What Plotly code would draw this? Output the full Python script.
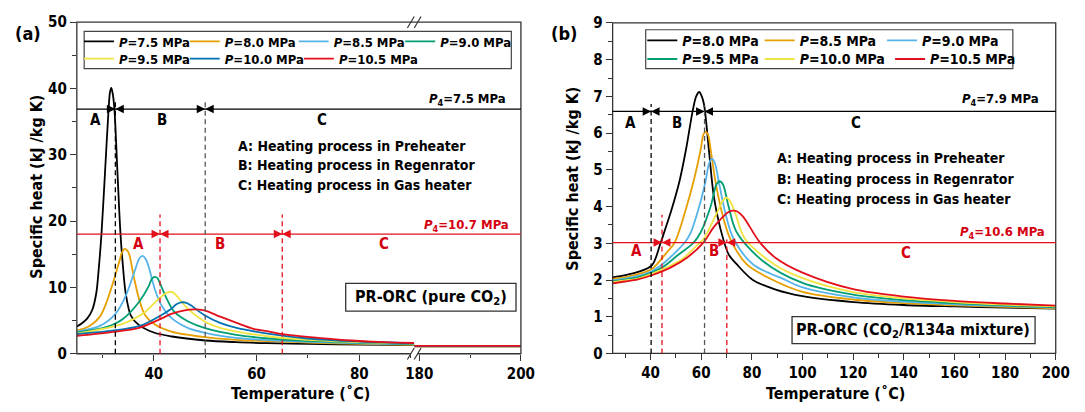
import plotly.graph_objects as go

W, H = 1085, 412
def px(x):
    return x / W
def py(y):
    return 1 - y / H

FONT = "DejaVu Sans Condensed, DejaVu Sans, sans-serif"
A_COLORS = ["#000000", "#E69F00", "#56B4E9", "#009E73", "#F0E442", "#0072B2", "#E3101B"]
B_COLORS = ["#000000", "#E69F00", "#56B4E9", "#009E73", "#F0E442", "#E3101B"]
RED = "#E3101B"
RED_TXT = "#D40010"

# ---------------- Panel (a): pure CO2 ----------------
a_labels = ["7.5", "8.0", "8.5", "9.0", "9.5", "10.0", "10.5"]
a_T_75 = [25, 26, 27, 28, 28.8, 29.3, 29.8, 30.5, 31.2, 31.45, 31.7, 31.95, 32.3, 32.9, 33.5, 34.0, 34.5, 35.5, 37, 40, 43.5, 50, 56, 62, 70, 80, 90.7]
a_cp_75 = [4.1, 4.6, 5.3, 6.6, 9.2, 13.1, 18.1, 27.5, 37.1, 39.4, 40.1, 39.4, 37.1, 27.5, 18.1, 13.0, 9.2, 5.8, 4.4, 3.2, 2.6, 2.0, 1.75, 1.6, 1.48, 1.38, 1.3]
a_T_80 = [25, 27.5, 29.5, 30.7, 32, 33.3, 33.8, 34.3, 34.8, 35.2, 36.1, 37.1, 38.3, 40.2, 43.4, 50, 56, 62.5, 70, 80, 90.7]
a_cp_80 = [3.5, 4.2, 5.6, 7.6, 10.6, 14.0, 15.3, 15.8, 15.6, 15.0, 11.6, 8.3, 5.8, 4.4, 3.35, 2.5, 2.1, 1.9, 1.7, 1.5, 1.36]
a_T_85 = [25, 29.5, 32.6, 34.5, 36.1, 37.2, 37.8, 38.4, 39.0, 40.2, 41.5, 43.4, 46.6, 50, 56, 62.5, 70, 80, 90.7]
a_cp_85 = [3.35, 4.2, 6.1, 8.7, 12.1, 14.4, 14.75, 14.3, 13.1, 9.7, 7.3, 5.4, 3.9, 3.15, 2.4, 2.05, 1.8, 1.58, 1.42]
a_T_90 = [25, 30.7, 33.9, 37.1, 39.0, 39.6, 40.2, 40.7, 41.2, 42.5, 44.0, 46.6, 50, 56, 62.5, 70, 80, 90.7]
a_cp_90 = [3.2, 4.0, 5.2, 7.8, 10.2, 11.3, 11.6, 11.4, 10.6, 8.3, 6.3, 4.9, 3.85, 2.85, 2.3, 1.95, 1.68, 1.47]
a_T_95 = [25, 33.9, 38.3, 40.9, 42.3, 43.1, 43.9, 44.7, 46.6, 49.8, 52.9, 56.1, 62.5, 70, 80, 90.7]
a_cp_95 = [3.05, 4.5, 6.3, 8.25, 9.1, 9.35, 9.15, 8.5, 6.8, 4.9, 3.9, 3.35, 2.6, 2.1, 1.75, 1.52]
a_T_100 = [25, 31, 37.1, 41.5, 43.4, 44.4, 45.3, 46.2, 47.2, 49.8, 52.9, 56.1, 62.5, 70, 80, 90.7]
a_cp_100 = [2.95, 3.4, 4.15, 5.85, 6.8, 7.45, 7.75, 7.7, 7.3, 5.85, 4.65, 3.9, 3.0, 2.3, 1.85, 1.56]
a_T_105 = [25, 32.6, 37.1, 40.9, 43.4, 46, 47.9, 49.8, 52.9, 56.1, 59.4, 62.5, 65, 72, 78.5, 84.8, 90.7]
a_cp_105 = [2.7, 3.35, 3.9, 5.1, 6.0, 6.55, 6.7, 6.55, 5.6, 4.65, 3.75, 3.35, 2.95, 2.4, 2.0, 1.75, 1.62]
a_T_high = [179, 190, 200]
a_cp_high_75 = [1.12, 1.12, 1.12]
a_cp_high_80 = [1.13, 1.13, 1.13]
a_cp_high_85 = [1.14, 1.14, 1.14]
a_cp_high_90 = [1.15, 1.15, 1.15]
a_cp_high_95 = [1.16, 1.16, 1.16]
a_cp_high_100 = [1.17, 1.17, 1.17]
a_cp_high_105 = [1.18, 1.18, 1.18]

a_T = [a_T_75, a_T_80, a_T_85, a_T_90, a_T_95, a_T_100, a_T_105]
a_cp = [a_cp_75, a_cp_80, a_cp_85, a_cp_90, a_cp_95, a_cp_100, a_cp_105]
a_cp_high = [a_cp_high_75, a_cp_high_80, a_cp_high_85, a_cp_high_90, a_cp_high_95, a_cp_high_100, a_cp_high_105]
a_legend = ["legend", "legend", "legend", "legend", "legend2", "legend2", "legend2"]
a_lw = [60.8, 63.9, 61.5, 90, 60.8, 69.1, 90]

a_P4_hi, a_P4_lo = 36.9, 18.05
a_bounds_black = [32.5, 50.0]
a_bounds_red = [41.2, 65.0]

# ---------------- Panel (b): CO2/R134a ----------------
b_labels = ["8.0", "8.5", "9.0", "9.5", "10.0", "10.5"]
b_T_80 = [25, 30, 35, 40.5, 43.9, 45.6, 48.2, 51.4, 54.0, 56.6, 58.0, 59.2, 60.2, 61.1, 63.0, 65.0, 67.6, 70.8, 74, 80.4, 89.4, 100, 120, 140, 160, 180, 200]
b_cp_80 = [2.07, 2.13, 2.22, 2.4, 3.0, 3.35, 3.9, 4.69, 5.56, 6.6, 7.0, 7.12, 7.0, 6.78, 5.56, 4.26, 3.39, 2.7, 2.43, 2.0, 1.74, 1.56, 1.4, 1.32, 1.28, 1.25, 1.22]
b_T_85 = [25, 30, 35, 40.5, 46, 49.5, 54, 57.2, 59.8, 60.8, 61.7, 62.7, 63.7, 65.6, 68.2, 71.4, 77.9, 86.9, 100, 120, 140, 160, 180, 200]
b_cp_85 = [2.03, 2.08, 2.16, 2.3, 2.72, 3.02, 3.95, 4.75, 5.56, 5.95, 6.04, 5.95, 5.56, 4.69, 3.83, 3.13, 2.43, 2.05, 1.68, 1.47, 1.37, 1.31, 1.27, 1.23]
b_T_90 = [25, 30, 35, 40.5, 45, 49, 53.5, 55.9, 59.2, 61.7, 63.2, 64.3, 65.4, 66.9, 69.5, 72.7, 80.4, 93.3, 100, 120, 140, 160, 180, 200]
b_cp_90 = [1.99, 2.04, 2.11, 2.24, 2.45, 2.7, 3.02, 3.3, 4.0, 4.69, 5.2, 5.3, 5.18, 4.69, 3.83, 3.13, 2.43, 2.0, 1.8, 1.53, 1.41, 1.34, 1.29, 1.25]
b_T_95 = [25, 30, 35, 40.5, 45, 50.8, 57, 59.8, 63.7, 66.0, 67.3, 68.6, 70.8, 74, 84.3, 100, 120, 140, 160, 180, 200]
b_cp_95 = [1.96, 2.01, 2.07, 2.2, 2.36, 2.68, 3.02, 3.3, 4.0, 4.6, 4.69, 4.6, 4.0, 3.3, 2.52, 1.92, 1.6, 1.45, 1.37, 1.31, 1.26]
b_T_100 = [25, 30, 35, 40.5, 46, 52.1, 59.5, 61.1, 66.2, 68.6, 69.9, 71.2, 73.4, 77.2, 89.4, 100, 120, 140, 160, 180, 200]
b_cp_100 = [1.94, 1.99, 2.04, 2.17, 2.33, 2.55, 3.02, 3.13, 3.83, 4.17, 4.24, 4.17, 3.83, 3.13, 2.4, 2.05, 1.67, 1.5, 1.4, 1.33, 1.28]
b_T_105 = [25, 30, 35, 40.5, 48.2, 54.6, 61.1, 64.5, 67.6, 70.5, 72.4, 74.4, 76.6, 83, 89.4, 100, 120, 140, 160, 180, 200]
b_cp_105 = [1.91, 1.96, 2.02, 2.13, 2.35, 2.62, 3.04, 3.4, 3.65, 3.84, 3.89, 3.86, 3.72, 3.04, 2.6, 2.2, 1.75, 1.55, 1.43, 1.36, 1.3]

b_T = [b_T_80, b_T_85, b_T_90, b_T_95, b_T_100, b_T_105]
b_cp = [b_cp_80, b_cp_85, b_cp_90, b_cp_95, b_cp_100, b_cp_105]
b_legend = ["legend3", "legend3", "legend3", "legend4", "legend4", "legend4"]
b_lw = [72.4, 77.4, 95, 72.4, 85.4, 95]

b_P4_hi, b_P4_lo = 6.59, 3.02
b_bounds_black = [40.2, 61.3]
b_bounds_red = [44.5, 70.1]

fig = go.Figure()

for i, lab in enumerate(a_labels):
    fig.add_trace(go.Scatter(
        x=a_T[i], y=a_cp[i], xaxis="x", yaxis="y", mode="lines",
        line=dict(color=A_COLORS[i], width=1.8, shape="spline", smoothing=0.9),
        name=f"<i>P</i>={lab} MPa", legend=a_legend[i], legendwidth=a_lw[i]))
for i, lab in enumerate(a_labels):
    fig.add_trace(go.Scatter(
        x=a_T_high, y=a_cp_high[i], xaxis="x2", yaxis="y", mode="lines",
        showlegend=False, line=dict(color=A_COLORS[i], width=1.8)))

for i, lab in enumerate(b_labels):
    fig.add_trace(go.Scatter(
        x=b_T[i], y=b_cp[i], xaxis="x3", yaxis="y2", mode="lines",
        line=dict(color=B_COLORS[i], width=1.8, shape="spline", smoothing=0.9),
        name=f"<i>P</i>={lab} MPa", legend=b_legend[i], legendwidth=b_lw[i]))

# ---------- geometry (pixels) ----------
A_L, A_R, A_T0, A_B = 69.3, 523.0, 13.8, 360.5
A_BRK = 414.0
B_L, B_R, B_T0, B_B = 616.7, 1069.4, 14.6, 360.2

axis_common = dict(showgrid=False, zeroline=False, showline=False, ticks="outside",
                   ticklen=6, tickwidth=1.2, tickcolor="#333",
                   tickfont=dict(family=FONT, size=15, color="black", weight="bold"))
def minor(d):
    return dict(dtick=d, ticks="outside", ticklen=3.5, tickwidth=1.1, tickcolor="#333")

fig.update_layout(
    width=W, height=H, margin=dict(l=0, r=0, t=0, b=0),
    paper_bgcolor="white", plot_bgcolor="white", showlegend=True,
    xaxis=dict(domain=[px(A_L), px(A_BRK)], range=[25, 90.7], anchor="y",
               tick0=0, dtick=20, minor=minor(10), **axis_common),
    xaxis2=dict(domain=[px(A_BRK), px(A_R)], range=[179, 200], anchor="y",
                tick0=0, dtick=20, minor=minor(10), **axis_common),
    yaxis=dict(domain=[py(A_B), py(A_T0)], range=[0, 50], anchor="x",
               dtick=10, minor=minor(5), **axis_common),
    xaxis3=dict(domain=[px(B_L), px(B_R)], range=[25, 200], anchor="y2",
                tick0=0, dtick=20, minor=minor(10), **axis_common),
    yaxis2=dict(domain=[py(B_B), py(B_T0)], range=[0, 9], anchor="x3",
                dtick=1, minor=minor(0.5), **axis_common),
)

def leg(xpx, ypx, size):
    return dict(orientation="h", x=px(xpx), y=py(ypx), xanchor="left", yanchor="middle",
                bgcolor="rgba(0,0,0,0)", borderwidth=0, itemclick=False,
                font=dict(family=FONT, size=size, color="black", weight="bold"))

fig.update_layout(legend=leg(71.5, 34, 13), legend2=leg(71.5, 52, 13),
                  legend3=leg(647, 33.3, 14), legend4=leg(647, 52.7, 14))

shapes = []
for (l, r, t, b) in [(A_L, A_R, A_T0, A_B), (B_L, B_R, B_T0, B_B)]:
    shapes.append(dict(type="rect", xref="paper", yref="paper", x0=px(l), x1=px(r), y0=py(b), y1=py(t),
                       line=dict(color="#333", width=1.3), layer="above"))
shapes.append(dict(type="rect", xref="paper", yref="paper", x0=px(76.8), x1=px(513.2), y0=py(62.3), y1=py(23.3),
                   line=dict(color="#444", width=1.2)))
shapes.append(dict(type="rect", xref="paper", yref="paper", x0=px(650.5), x1=px(1025.6), y0=py(62.3), y1=py(21.7),
                   line=dict(color="#444", width=1.2)))
shapes.append(dict(type="rect", xref="paper", yref="paper", x0=px(410.5), x1=px(417.5), y0=py(363), y1=py(358.5),
                   fillcolor="white", line=dict(width=0), layer="above"))
for yc in (A_T0, A_B):
    for xc in (410.5, 417.5):
        shapes.append(dict(type="line", xref="paper", yref="paper", x0=px(xc - 3.5), x1=px(xc + 3.5),
                           y0=py(yc + 6), y1=py(yc - 6), line=dict(color="#333", width=1.2), layer="above"))
shapes.append(dict(type="line", xref="paper", yref="y", x0=px(A_L), x1=px(A_R), y0=a_P4_hi, y1=a_P4_hi,
                   line=dict(color="black", width=1.2)))
shapes.append(dict(type="line", xref="paper", yref="y", x0=px(A_L), x1=px(A_R), y0=a_P4_lo, y1=a_P4_lo,
                   line=dict(color=RED, width=1.2)))
shapes.append(dict(type="line", xref="paper", yref="y2", x0=px(B_L), x1=px(B_R), y0=b_P4_hi, y1=b_P4_hi,
                   line=dict(color="black", width=1.2)))
shapes.append(dict(type="line", xref="paper", yref="y2", x0=px(B_L), x1=px(B_R), y0=b_P4_lo, y1=b_P4_lo,
                   line=dict(color=RED, width=1.2)))
DASH = "5px,3.5px"
def vdash(xref, yref, xv, ytop, color):
    shapes.append(dict(type="line", xref=xref, yref=yref, x0=xv, x1=xv, y0=0, y1=ytop,
                       line=dict(color=color, width=1.3, dash=DASH)))
vdash("x", "y", a_bounds_black[0], 38.0, "black")
vdash("x", "y", a_bounds_black[1], 38.3, "#555")
for xv in a_bounds_red:
    vdash("x", "y", xv, 21.0, RED)
vdash("x3", "y2", b_bounds_black[0], 6.79, "black")
vdash("x3", "y2", b_bounds_black[1], 6.75, "#555")
vdash("x3", "y2", b_bounds_red[0], 3.78, RED)
vdash("x3", "y2", b_bounds_red[1], 3.1, RED)
shapes.append(dict(type="rect", xref="paper", yref="paper", x0=px(344), x1=px(518), y0=py(316), y1=py(287),
                   line=dict(color="#333", width=1.3), fillcolor="white", layer="above"))
shapes.append(dict(type="rect", xref="paper", yref="paper", x0=px(800), x1=px(1048.3), y0=py(350), y1=py(321.7),
                   line=dict(color="#333", width=1.3), fillcolor="white", layer="above"))

ann = []
def txt(x, y, s, xref="paper", yref="paper", size=14, color="black", xanchor="center", angle=0):
    ann.append(dict(x=x, y=y, xref=xref, yref=yref, text=s, showarrow=False, xanchor=xanchor, yanchor="middle",
                    textangle=angle, font=dict(family=FONT, size=size, color=color, weight="bold")))

def heads(xv, yv, xref, yref, color):
    for ax in (-10, 10):
        ann.append(dict(x=xv, y=yv, xref=xref, yref=yref, ax=ax, ay=0, text="", showarrow=True,
                        arrowhead=2, arrowsize=1.3, arrowwidth=1.3, arrowcolor=color, standoff=0))

# panel (a)
txt(px(19), py(26), "(a)", size=18)
txt(px(28.4), py(186), "Specific heat (kJ /kg K)", size=16, angle=-90)
txt(px(298), py(401.7), "Temperature (˚C)", size=16)
txt(28.7, 35.2, "A", "x", "y", size=15)
txt(41.6, 35.2, "B", "x", "y", size=15)
txt(72.8, 35.2, "C", "x", "y", size=15)
txt(px(509.7), 38.3, "<i>P</i><sub>4</sub>=7.5 MPa", "paper", "y", size=13, xanchor="right")
txt(55.9, 31.3, "A: Heating process in Preheater", "x", "y", size=14, xanchor="left")
txt(55.9, 28.4, "B: Heating process in Regenrator", "x", "y", size=14, xanchor="left")
txt(55.9, 25.4, "C: Heating process in Gas heater", "x", "y", size=14, xanchor="left")
txt(37.1, 16.6, "A", "x", "y", size=15, color=RED_TXT)
txt(52.8, 16.6, "B", "x", "y", size=15, color=RED_TXT)
txt(84.8, 16.6, "C", "x", "y", size=15, color=RED_TXT)
txt(px(513.2), 19.4, "<i>P</i><sub>4</sub>=10.7 MPa", "paper", "y", size=13, color=RED_TXT, xanchor="right")
txt(px(431), py(301.5), "PR-ORC (pure CO<sub>2</sub>)", size=16)
for xv in a_bounds_black:
    heads(xv, a_P4_hi, "x", "y", "black")
for xv in a_bounds_red:
    heads(xv, a_P4_lo, "x", "y", RED)

# panel (b)
txt(px(567), py(26), "(b)", size=18)
txt(px(575.6), py(177), "Specific heat (kJ /kg K)", size=16, angle=-90)
txt(px(844), py(402), "Temperature (˚C)", size=16)
txt(32.1, 6.27, "A", "x3", "y2", size=15)
txt(50.5, 6.27, "B", "x3", "y2", size=15)
txt(121.3, 6.27, "C", "x3", "y2", size=15)
txt(px(1054.5), 6.91, "<i>P</i><sub>4</sub>=7.9 MPa", "paper", "y2", size=13, xanchor="right")
txt(89.1, 5.32, "A: Heating process in Preheater", "x3", "y2", size=14, xanchor="left")
txt(89.1, 4.76, "B: Heating process in Regenrator", "x3", "y2", size=14, xanchor="left")
txt(89.1, 4.20, "C: Heating process in Gas heater", "x3", "y2", size=14, xanchor="left")
txt(34.4, 2.78, "A", "x3", "y2", size=15, color=RED_TXT)
txt(65.1, 2.78, "B", "x3", "y2", size=15, color=RED_TXT)
txt(140.7, 2.74, "C", "x3", "y2", size=15, color=RED_TXT)
txt(px(1060.3), 3.3, "<i>P</i><sub>4</sub>=10.6 MPa", "paper", "y2", size=13, color=RED_TXT, xanchor="right")
txt(px(924), py(336), "PR-ORC (CO<sub>2</sub>/R134a mixture)", size=16)
for xv in b_bounds_black:
    heads(xv, b_P4_hi, "x3", "y2", "black")
for xv in b_bounds_red:
    heads(xv, b_P4_lo, "x3", "y2", RED)

fig.update_layout(shapes=shapes, annotations=ann)
fig.write_html("out.html")
